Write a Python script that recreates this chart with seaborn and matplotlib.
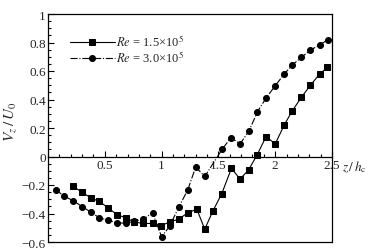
import matplotlib
matplotlib.use("Agg")
import matplotlib.pyplot as plt
import seaborn as sns
from matplotlib.ticker import FixedLocator, MultipleLocator, FuncFormatter

# Re = 1.5e5 (squares, solid)
z_low = [0.22, 0.30, 0.375, 0.45, 0.53, 0.61, 0.686, 0.76, 0.84, 0.92,
         0.994, 1.07, 1.15, 1.23, 1.31, 1.38, 1.45, 1.53, 1.615, 1.69,
         1.765, 1.84, 1.92, 2.0, 2.08, 2.15, 2.23, 2.31, 2.39, 2.46]
v_low = [-0.21, -0.25, -0.29, -0.315, -0.36, -0.41, -0.43, -0.46, -0.47, -0.47,
         -0.485, -0.46, -0.44, -0.395, -0.37, -0.51, -0.385, -0.26, -0.083, -0.158,
         -0.095, 0.01, 0.14, 0.088, 0.222, 0.32, 0.415, 0.50, 0.577, 0.626]

# Re = 3.0e5 (circles, dash-dot)
z_high = [0.068, 0.144, 0.223, 0.30, 0.378, 0.45, 0.53, 0.61, 0.686, 0.76,
          0.84, 0.92, 1.0, 1.07, 1.15, 1.23, 1.30, 1.38, 1.533, 1.61,
          1.69, 1.77, 1.844, 1.92, 2.0, 2.08, 2.15, 2.23, 2.31, 2.39, 2.465]
v_high = [-0.233, -0.28, -0.31, -0.352, -0.39, -0.43, -0.446, -0.467, -0.467, -0.455,
          -0.44, -0.394, -0.563, -0.49, -0.357, -0.235, -0.074, -0.14, 0.05, 0.133,
          0.088, 0.18, 0.315, 0.41, 0.497, 0.579, 0.642, 0.695, 0.747, 0.782, 0.82]

labels = [r"$\mathit{Re}$ = 1.5×10$^{5}$", r"$\mathit{Re}$ = 3.0×10$^{5}$"]
x_ticks = [0.5, 1, 1.5, 2, 2.5]

sns.set_style("white")
plt.rcParams["font.family"] = ["Liberation Serif", "DejaVu Serif"]
plt.rcParams["mathtext.fontset"] = "stix"
plt.rcParams["font.size"] = 9

fig = plt.figure(figsize=(3.76, 2.53), dpi=100)
ax = fig.add_axes([48 / 376, 10 / 253, 284 / 376, 228 / 253])

sns.lineplot(x=z_low, y=v_low, ax=ax, color="k", marker="s", linestyle="-",
             linewidth=0.8, markersize=4, markeredgecolor="k", label=labels[0])
sns.lineplot(x=z_high, y=v_high, ax=ax, color="k", marker="o", linestyle="-.",
             linewidth=0.8, markersize=4.3, markeredgecolor="k", label=labels[1])

ax.set_xlim(0, 2.5)
ax.set_ylim(-0.6, 1)

# frame: x axis drawn on the zero line, box closed by hand at the bottom
for side in ["left", "right", "top", "bottom"]:
    ax.spines[side].set_color("k")
    ax.spines[side].set_linewidth(0.9)
ax.spines["bottom"].set_position(("data", 0))
ax.plot([0, 1], [0, 0], transform=ax.transAxes, color="k", lw=0.9, clip_on=False)

ax.xaxis.set_major_locator(FixedLocator(x_ticks))
ax.xaxis.set_minor_locator(MultipleLocator(0.1))
ax.yaxis.set_major_locator(MultipleLocator(0.2))
ax.yaxis.set_minor_locator(MultipleLocator(0.05))
fmt = FuncFormatter(lambda v, p: ("%g" % round(v, 2)).replace("-", "\u2212"))
ax.xaxis.set_major_formatter(fmt)
ax.yaxis.set_major_formatter(fmt)
ax.tick_params(which="both", direction="in", top=False, right=False,
               bottom=True, left=True, color="k", width=0.8)
ax.tick_params(which="major", length=4, labelsize=9.5, pad=1.5)
ax.tick_params(which="minor", length=2.2)
ax.tick_params(axis="x", pad=2)

ax.set_xlabel("")
ax.set_ylabel(r"$V_z\,/\,U_0$", fontsize=11)
ax.yaxis.set_label_coords(-0.105, 0.53)
ax.text(2.59, -0.015, r"$z\,/\,h_{\rm c}$", fontsize=9.5, ha="left", va="top")

leg = ax.legend(loc="upper left", bbox_to_anchor=(0.077, 0.915), frameon=False,
                handlelength=3.6, handletextpad=0.1, borderpad=0, borderaxespad=0,
                labelspacing=0.02, fontsize=9)

fig.savefig("out.png", dpi=100)
